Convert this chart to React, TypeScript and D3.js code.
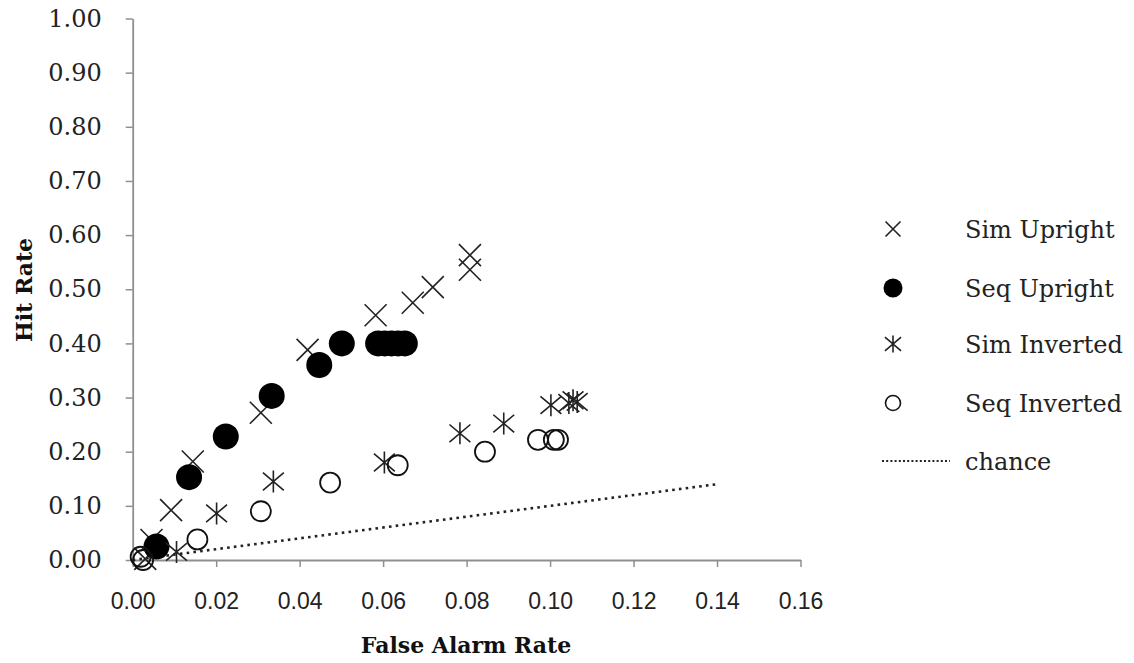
import React, { useEffect, useRef } from 'react';
import * as d3 from 'd3';

// [false alarm rate, hit rate]
const simUpright: [number, number][] = [
  [0.003, 0.002], [0.0045, 0.037], [0.0092, 0.092], [0.0144, 0.182], [0.0307, 0.272],
  [0.0419, 0.388], [0.0582, 0.452], [0.0671, 0.475], [0.0719, 0.504],
  [0.0808, 0.536], [0.0808, 0.563],
];
const seqUpright: [number, number][] = [
  [0.0057, 0.025], [0.0135, 0.153], [0.0223, 0.228], [0.0333, 0.303], [0.0447, 0.36],
  [0.0501, 0.4], [0.0588, 0.4], [0.0604, 0.4], [0.062, 0.4], [0.0636, 0.4], [0.0652, 0.4],
];
const simInverted: [number, number][] = [
  [0.0105, 0.015], [0.0201, 0.086], [0.0337, 0.145], [0.0603, 0.18], [0.0784, 0.234],
  [0.0889, 0.252], [0.1002, 0.286], [0.1045, 0.29], [0.1055, 0.295], [0.1065, 0.292],
];
const seqInverted: [number, number][] = [
  [0.0019, 0.006], [0.0025, 0.0], [0.0155, 0.038], [0.0307, 0.09], [0.0473, 0.143],
  [0.0635, 0.175], [0.0844, 0.2], [0.0971, 0.222], [0.1009, 0.222], [0.1019, 0.222],
];
const chance: [number, number][] = [[0, 0], [0.14, 0.14]];

const xTicks = [0, 0.02, 0.04, 0.06, 0.08, 0.1, 0.12, 0.14, 0.16];
const yTicks = [0, 0.1, 0.2, 0.3, 0.4, 0.5, 0.6, 0.7, 0.8, 0.9, 1.0];
const legendLabels = ['Sim Upright', 'Seq Upright', 'Sim Inverted', 'Seq Inverted', 'chance'];

const serif = '"DejaVu Serif", serif';

const App = () => {
  const svgRef = useRef<SVGSVGElement>(null);

  useEffect(() => {
    const svg = d3.select(svgRef.current);
    svg.selectAll('*').remove();

    const x = d3.scaleLinear().domain([0, 0.16]).range([132.7, 800.5]);
    const y = d3.scaleLinear().domain([0, 1]).range([560, 18.5]);
    const axisColor = '#8f8f8f';

    const gy = svg.append('g')
      .attr('transform', `translate(${x(0)},0)`)
      .call(d3.axisLeft(y).tickValues(yTicks).tickFormat(d3.format('.2f')).tickSizeInner(7).tickSizeOuter(0).tickPadding(24));
    gy.select('.domain').attr('stroke', axisColor).attr('stroke-width', 1.8);
    gy.selectAll('.tick line').attr('stroke', axisColor).attr('stroke-width', 1.5);
    gy.selectAll('.tick text')
      .style('font-family', serif).style('font-size', '24px').attr('fill', '#222');

    const gx = svg.append('g')
      .attr('transform', `translate(0,${y(0)})`)
      .call(d3.axisBottom(x).tickValues(xTicks).tickFormat(d3.format('.2f')).tickSizeInner(7).tickSizeOuter(0).tickPadding(26));
    gx.select('.domain').attr('stroke', axisColor).attr('stroke-width', 1.8);
    gx.selectAll('.tick line').attr('stroke', axisColor).attr('stroke-width', 1.5);
    gx.selectAll('.tick text')
      .style('font-family', '"Liberation Sans", sans-serif').style('font-size', '23px').attr('fill', '#222');

    // chance line
    svg.append('path')
      .datum(chance)
      .attr('d', d3.line<[number, number]>().x(d => x(d[0])).y(d => y(d[1])))
      .attr('stroke', '#222').attr('stroke-width', 2.6).attr('stroke-dasharray', '2.6 4.2').attr('fill', 'none');

    const drawX = (g: any, s: number) => {
      g.append('path').attr('d', `M${-s},${-s}L${s},${s}M${-s},${s}L${s},${-s}`)
        .attr('stroke', '#222').attr('stroke-width', 1.6).attr('fill', 'none');
    };
    const drawStar = (g: any, s: number) => {
      g.append('path')
        .attr('d', `M0,${-s}L0,${s}M${-s * 0.95},${-s * 0.8}L${s * 0.95},${s * 0.8}M${-s * 0.95},${s * 0.8}L${s * 0.95},${-s * 0.8}`)
        .attr('stroke', '#222').attr('stroke-width', 1.6).attr('fill', 'none');
    };

    const plot = svg.append('g');

    plot.selectAll('g.sim-up').data(simUpright).enter().append('g')
      .attr('transform', d => `translate(${x(d[0])},${y(d[1])})`)
      .each(function () { drawX(d3.select(this), 11); });

    plot.selectAll('circle.seq-up').data(seqUpright).enter().append('circle')
      .attr('cx', d => x(d[0])).attr('cy', d => y(d[1])).attr('r', 13).attr('fill', '#000');

    plot.selectAll('g.sim-inv').data(simInverted).enter().append('g')
      .attr('transform', d => `translate(${x(d[0])},${y(d[1])})`)
      .each(function () { drawStar(d3.select(this), 11); });

    plot.selectAll('circle.seq-inv').data(seqInverted).enter().append('circle')
      .attr('cx', d => x(d[0])).attr('cy', d => y(d[1])).attr('r', 10)
      .attr('fill', 'none').attr('stroke', '#111').attr('stroke-width', 1.8);

    // legend
    const legendY = [229, 288, 344, 403, 461];
    const lg = svg.append('g');
    legendLabels.forEach((label, i) => {
      const g = lg.append('g').attr('transform', `translate(893,${legendY[i]})`);
      if (i === 0) drawX(g, 7.5);
      if (i === 1) g.append('circle').attr('r', 9.5).attr('fill', '#000');
      if (i === 2) drawStar(g, 8.5);
      if (i === 3) g.append('circle').attr('r', 7.5).attr('fill', 'none').attr('stroke', '#111').attr('stroke-width', 1.6);
      if (i === 4) g.append('line').attr('x1', -11).attr('x2', 57).attr('stroke', '#222')
        .attr('stroke-width', 2.2).attr('stroke-dasharray', '2 2.2');
      g.append('text').attr('x', 72).attr('y', 9)
        .style('font-family', serif).style('font-size', '24px').attr('fill', '#222').text(label);
    });

    svg.append('text')
      .attr('transform', 'translate(32,290) rotate(-90)')
      .attr('text-anchor', 'middle')
      .style('font-family', serif).style('font-size', '22px').style('font-weight', 'bold')
      .attr('fill', '#111').text('Hit Rate');

    svg.append('text')
      .attr('x', 466).attr('y', 653)
      .attr('text-anchor', 'middle')
      .style('font-family', serif).style('font-size', '22px').style('font-weight', 'bold')
      .attr('fill', '#111').text('False Alarm Rate');
  }, []);

  return (
    <div style={{ position: 'absolute', left: 0, top: 0 }}>
      <svg ref={svgRef} width={1134} height={663} style={{ display: 'block', background: '#fff' }} />
    </div>
  );
};

export default App;
